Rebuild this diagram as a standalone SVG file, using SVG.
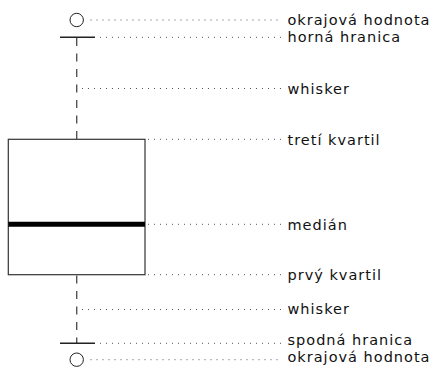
<svg xmlns="http://www.w3.org/2000/svg" width="434" height="368" viewBox="0 0 434 368">
<style>
.lbl{font-family:"DejaVu Sans",sans-serif;font-size:14.5px;letter-spacing:1px;fill:#111}
.lead{stroke:#555;stroke-width:1;stroke-dasharray:1 5;fill:none}
.wh{stroke:#555;stroke-width:1.4;stroke-dasharray:8 7.5;fill:none}
.cap{stroke:#222;stroke-width:1.4}
.out{fill:none;stroke:#222;stroke-width:1}
</style>
<rect width="434" height="368" fill="#fff"/>
<g id="outlier-top"><circle class="out" cx="76.7" cy="20" r="6.7"/></g>
<g id="cap-top"><line class="cap" x1="60" y1="37.3" x2="95" y2="37.3"/></g>
<g id="whisker-top"><line class="wh" x1="76.7" y1="38" x2="76.7" y2="139.3"/></g>
<g id="box"><rect x="8.3" y="139.3" width="136.7" height="135.4" fill="#fff" stroke="#333" stroke-width="1.2"/></g>
<g id="median"><line x1="8.3" y1="224.3" x2="145" y2="224.3" stroke="#000" stroke-width="5"/></g>
<g id="whisker-bottom"><line class="wh" x1="76.7" y1="275.5" x2="76.7" y2="343"/></g>
<g id="cap-bottom"><line class="cap" x1="60" y1="343.3" x2="95" y2="343.3"/></g>
<g id="outlier-bottom"><circle class="out" cx="76.7" cy="359.7" r="6.7"/></g>
<g id="connectors">
<line class="lead" x1="90.5" y1="20" x2="281" y2="20"/>
<line class="lead" x1="100" y1="37.3" x2="281" y2="37.3"/>
<line class="lead" x1="82" y1="88.5" x2="281" y2="88.5"/>
<line class="lead" x1="148" y1="139.3" x2="281" y2="139.3"/>
<line class="lead" x1="148" y1="224.3" x2="281" y2="224.3"/>
<line class="lead" x1="148" y1="274.7" x2="281" y2="274.7"/>
<line class="lead" x1="82" y1="309.5" x2="281" y2="309.5"/>
<line class="lead" x1="100" y1="343.3" x2="281" y2="343.3"/>
<line class="lead" x1="90.5" y1="359.7" x2="281" y2="359.7"/>
</g>
<g id="labels">
<text class="lbl" x="287.5" y="25">okrajová hodnota</text>
<text class="lbl" x="287.5" y="42.3">horná hranica</text>
<text class="lbl" x="287.5" y="93.5">whisker</text>
<text class="lbl" x="287.5" y="144.5">tretí kvartil</text>
<text class="lbl" x="287.5" y="229.5">medián</text>
<text class="lbl" x="287.5" y="279.5">prvý kvartil</text>
<text class="lbl" x="287.5" y="314">whisker</text>
<text class="lbl" x="287.5" y="345">spodná hranica</text>
<text class="lbl" x="287.5" y="362.4">okrajová hodnota</text>
</g>
</svg>
